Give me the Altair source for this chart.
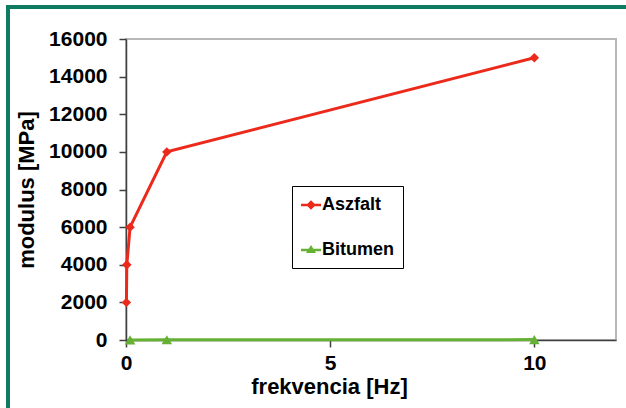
import altair as alt
import pandas as pd

# Dynamic modulus vs. loading frequency
asz_freq = [0.01, 0.02, 0.1, 1, 10]
asz_mod = [2000, 4000, 6000, 10000, 15000]
bit_freq = [0.1, 1, 10]
bit_mod = [5, 10, 20]

series_names = ["Aszfalt", "Bitumen"]
series_colors = ["#ec2a1c", "#66b134"]
x_ticks = [0, 5, 10]
y_ticks = [0, 2000, 4000, 6000, 8000, 10000, 12000, 14000, 16000]

df = pd.concat([
    pd.DataFrame({"freq": asz_freq, "mod": asz_mod, "series": "Aszfalt"}),
    pd.DataFrame({"freq": bit_freq, "mod": bit_mod, "series": "Bitumen"}),
], ignore_index=True)

FONT = "Liberation Sans"

x_enc = alt.X(
    "freq:Q",
    scale=alt.Scale(domain=[0, 12], nice=False, zero=False),
    axis=alt.Axis(values=x_ticks, format="d", title="frekvencia [Hz]", titleX=203,
                  labelFlush=False),
)
y_enc = alt.Y(
    "mod:Q",
    scale=alt.Scale(domain=[0, 16000], nice=False),
    axis=alt.Axis(values=y_ticks, format="d", title="modulus [MPa]", labelFlush=False),
)
color_scale = alt.Scale(domain=series_names, range=series_colors)

# legend symbols: a short line segment with the series marker on it
legend_paths = [
    "M-1,-0.12H1V0.12H-1Z M-0.48,0L0,-0.48L0.48,0L0,0.48Z",
    "M-1,-0.12H1V0.12H-1Z M-0.5,0.3L0,-0.5L0.5,0.3Z",
]
legend = alt.Legend(
    title=None, orient="none", legendX=166, legendY=147,
    strokeColor="#000000", fillColor="#ffffff", padding=9, rowPadding=26,
    symbolSize=400, symbolStrokeWidth=0, symbolOpacity=1,
    labelFont=FONT, labelFontSize=18, labelFontWeight="bold",
    labelColor="#000000", labelOffset=1,
)

base = alt.Chart(df).encode(x=x_enc, y=y_enc)

# invisible layer that carries the legend (must come first in the layer)
key = base.mark_point(filled=True, opacity=0).encode(
    fill=alt.Fill("series:N", scale=color_scale, legend=legend),
    shape=alt.Shape("series:N", scale=alt.Scale(domain=series_names, range=legend_paths), legend=legend),
)

lines = base.mark_line(strokeWidth=3).encode(
    color=alt.Color("series:N", scale=color_scale, legend=None)
)
asz_pts = base.transform_filter(alt.datum.series == "Aszfalt").mark_point(
    shape="diamond", filled=True, size=90, opacity=1
).encode(color=alt.Color("series:N", scale=color_scale, legend=None))
bit_pts = base.transform_filter(alt.datum.series == "Bitumen").mark_point(
    shape="triangle-up", filled=True, size=110, opacity=1
).encode(color=alt.Color("series:N", scale=color_scale, legend=None))

# teal frame around the figure
frame_color = "#0f7b63"
frame_left = alt.Chart(df).mark_rule(color=frame_color, strokeWidth=3).encode(
    x=alt.value(-118), y=alt.value(-32), y2=alt.value(400)
)
frame_top = alt.Chart(df).mark_rule(color=frame_color, strokeWidth=3).encode(
    x=alt.value(-120), x2=alt.value(520), y=alt.value(-32)
)

chart = alt.layer(key, lines, asz_pts, bit_pts, frame_left, frame_top).properties(
    width=490, height=301,
    autosize=alt.AutoSizeParams(type="none"),
    padding={"left": 126, "top": 39, "right": 10, "bottom": 68},
    background="#ffffff",
).configure_view(
    stroke="#b8b8b8", strokeWidth=2
).configure_axis(
    grid=False,
    labelFont=FONT, labelFontSize=21, labelFontWeight="bold", labelColor="#000000",
    titleFont=FONT, titleFontSize=22, titleFontWeight="bold", titleColor="#000000",
    domainColor="#404040", domainWidth=1.5, tickColor="#404040", tickWidth=1.5,
    tickSize=7,
).configure_axisX(
    labelPadding=5, titlePadding=3,
).configure_axisY(
    labelPadding=12, titlePadding=10,
)

chart.save("out.html", embed_options={"renderer": "svg", "actions": False})
